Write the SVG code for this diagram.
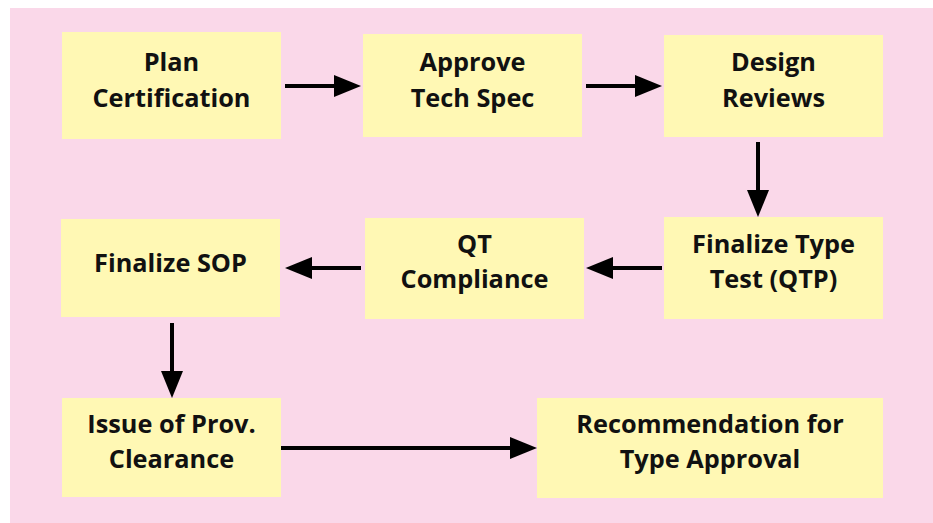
<svg xmlns="http://www.w3.org/2000/svg" width="933" height="523" viewBox="0 0 933 523">
<style>
.bg{fill:#FAD8E9}
.box{fill:#FFF8B4}
.t{font-family:"Open Sans","Noto Sans","Liberation Sans",sans-serif;font-weight:bold;font-size:25.3px;fill:#111;text-anchor:middle}
.c{stroke:#000;stroke-width:4;fill:none;marker-end:url(#ah)}
</style>
<defs>
<marker id="ah" markerUnits="userSpaceOnUse" markerWidth="27" markerHeight="22" refX="7" refY="11" orient="auto" viewBox="0 0 27 22">
<path d="M0,0 L27,11 L0,22 z" fill="#000"/>
</marker>
</defs>
<rect class="bg" x="10" y="8" width="923" height="515"/>
<g id="connectors">
<line class="c" x1="285" y1="86" x2="341" y2="86"/>
<line class="c" x1="586" y1="86" x2="642" y2="86"/>
<line class="c" x1="758" y1="142" x2="758" y2="197"/>
<line class="c" x1="662" y1="268" x2="606" y2="268"/>
<line class="c" x1="361" y1="268" x2="305" y2="268"/>
<line class="c" x1="172" y1="323" x2="172" y2="378"/>
<line class="c" x1="281" y1="448" x2="517" y2="448"/>
</g>
<g id="plan">
<rect class="box" x="62" y="32" width="219" height="107"/>
<text class="t" x="171.5" y="71">Plan</text>
<text class="t" x="171.5" y="107">Certification</text>
</g>
<g id="approve">
<rect class="box" x="363" y="34" width="219" height="103"/>
<text class="t" x="472.5" y="71">Approve</text>
<text class="t" x="472.5" y="107">Tech Spec</text>
</g>
<g id="design">
<rect class="box" x="664" y="35" width="219" height="102"/>
<text class="t" x="773.5" y="71">Design</text>
<text class="t" x="773.5" y="107">Reviews</text>
</g>
<g id="typetest">
<rect class="box" x="664" y="217" width="219" height="102"/>
<text class="t" x="773.5" y="253">Finalize Type</text>
<text class="t" x="773.5" y="288">Test (QTP)</text>
</g>
<g id="qt">
<rect class="box" x="365" y="218" width="219" height="101"/>
<text class="t" x="474.5" y="253">QT</text>
<text class="t" x="474.5" y="288">Compliance</text>
</g>
<g id="sop">
<rect class="box" x="61" y="219" width="219" height="98"/>
<text class="t" x="170.5" y="272">Finalize SOP</text>
</g>
<g id="issue">
<rect class="box" x="62" y="398" width="219" height="99"/>
<text class="t" x="171.5" y="433">Issue of Prov.</text>
<text class="t" x="171.5" y="468">Clearance</text>
</g>
<g id="recommend">
<rect class="box" x="537" y="398" width="346" height="100"/>
<text class="t" x="710" y="433">Recommendation for</text>
<text class="t" x="710" y="468">Type Approval</text>
</g>
</svg>
